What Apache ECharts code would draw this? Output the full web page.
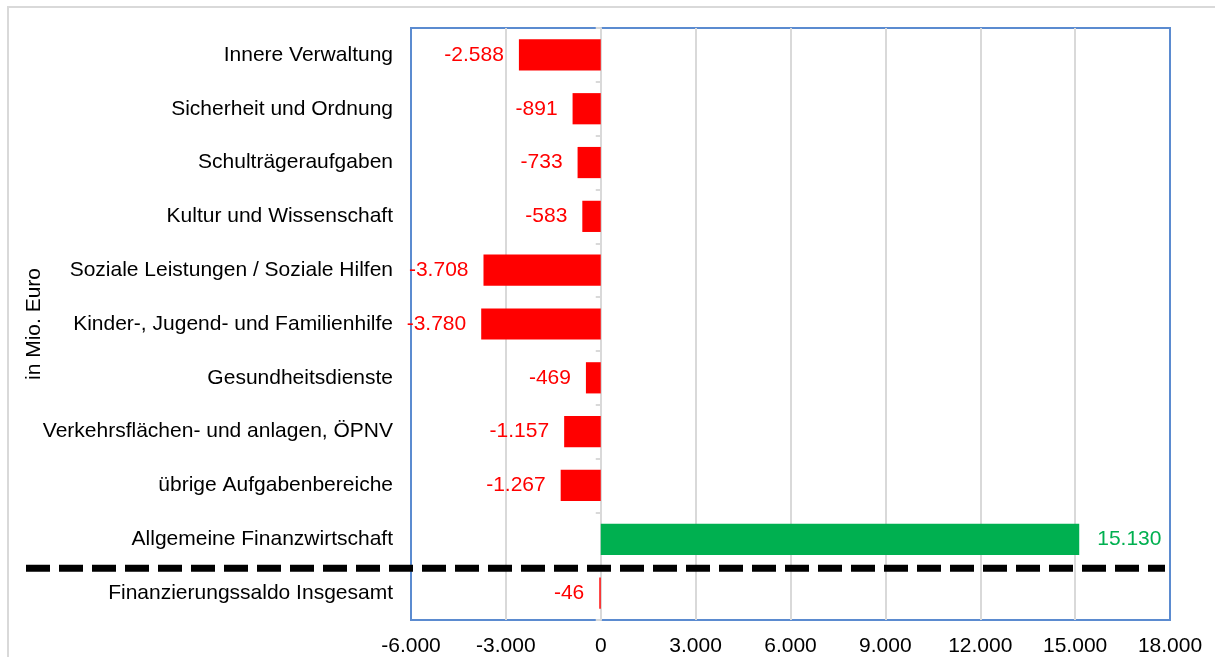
<!DOCTYPE html>
<html><head><meta charset="utf-8">
<script src="https://cdn.jsdelivr.net/npm/echarts@6/dist/echarts.min.js"></script>
<style>html,body{margin:0;padding:0;background:#fff}#c{width:1215px;height:657px}</style>
</head><body><div id="c"></div>
<script>
const categories = [
  "Innere Verwaltung",
  "Sicherheit und Ordnung",
  "Schulträgeraufgaben",
  "Kultur und Wissenschaft",
  "Soziale Leistungen / Soziale Hilfen",
  "Kinder-, Jugend- und Familienhilfe",
  "Gesundheitsdienste",
  "Verkehrsflächen- und anlagen, ÖPNV",
  "übrige Aufgabenbereiche",
  "Allgemeine Finanzwirtschaft",
  "Finanzierungssaldo Insgesamt"
];
const values = [-2588, -891, -733, -583, -3708, -3780, -469, -1157, -1267, 15130, -46];
const xTicks = { min: -6000, max: 18000, interval: 3000 };
const axisName = "in Mio. Euro";

const RED = "#ff0000", GREEN = "#00b050";
function fmt(v){
  const s = Math.abs(v).toString().replace(/\B(?=(\d{3})+(?!\d))/g, ".");
  return (v < 0 ? "-" : "") + s;
}
const FONT = "Liberation Sans, Arial, sans-serif";
const FS = 21;

const chart = echarts.init(document.getElementById("c"), null, {renderer: "canvas"});
const data = values.map(v => ({
  value: v,
  itemStyle: { color: v >= 0 ? GREEN : RED },
  label: { position: v >= 0 ? "right" : "left", color: v >= 0 ? GREEN : RED, distance: v >= 0 ? 18 : 15 }
}));
chart.setOption({
  animation: false,
  grid: { left: 411, right: 45, top: 28, bottom: 37, show: true, borderColor: "#5b8bd0", borderWidth: 2, containLabel: false },
  xAxis: {
    type: "value", min: xTicks.min, max: xTicks.max, interval: xTicks.interval,
    axisLine: { show: false }, axisTick: { show: false },
    splitLine: { show: true, showMinLine: false, showMaxLine: false, lineStyle: { color: "#d9d9d9", width: 2 } },
    axisLabel: { formatter: fmt, color: "#000", fontSize: FS, fontFamily: FONT, margin: 16 }
  },
  yAxis: [{
    type: "category", data: categories, inverse: true,
    axisLine: { show: false, onZero: false }, axisTick: { show: false },
    axisLabel: { color: "#000", fontSize: FS, fontFamily: FONT, margin: 18 },
    name: axisName, nameLocation: "middle", nameGap: 366, nameRotate: 90, nameMoveOverlap: false,
    nameTextStyle: { color: "#000", fontSize: FS, fontFamily: FONT }
  }, {
    type: "category", data: categories, inverse: true, position: "left",
    axisLine: { show: true, onZero: true, lineStyle: { color: "#d9d9d9", width: 2 } },
    axisTick: { show: true, length: 5, lineStyle: { color: "#d9d9d9", width: 2 } },
    axisLabel: { show: false }
  }],
  series: [{
    type: "bar", data: data, barWidth: "58%",
    label: { show: true, fontSize: FS, fontFamily: FONT, formatter: p => fmt(p.value) }
  }]
});

// decorations: outer frame and dashed separator before total row
const y9 = chart.convertToPixel({ yAxisIndex: 0 }, 9);
const y10 = chart.convertToPixel({ yAxisIndex: 0 }, 10);
const ySep = (y9 + y10) / 2 + 2;
chart.setOption({
  graphic: [
    { type: "rect", shape: { x: 8, y: 7, width: 1230, height: 700 }, style: { fill: null, stroke: "#d9d9d9", lineWidth: 2 }, silent: true, z: 0 },
    { type: "line", shape: { x1: 26, y1: ySep, x2: 1165, y2: ySep }, style: { stroke: "#000", lineWidth: 7, lineDash: [24, 9] }, z: 100 }
  ]
});
</script>
</body></html>
